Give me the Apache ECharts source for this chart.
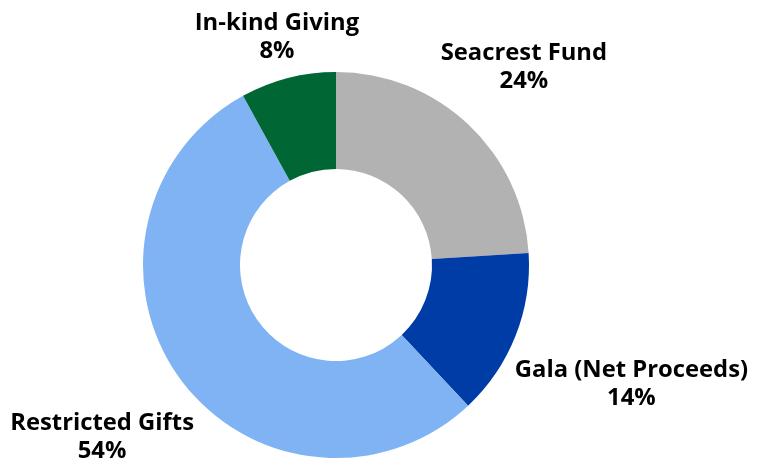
<!DOCTYPE html>
<html>
<head>
<meta charset="utf-8">
<script src="https://cdn.jsdelivr.net/npm/echarts@6/dist/echarts.min.js"></script>
<style>
html,body{margin:0;padding:0;background:#fff;}
#chart{width:763px;height:461px;}
</style>
</head>
<body>
<div id="chart"></div>
<script>
const categories = ['Seacrest Fund', 'Gala (Net Proceeds)', 'Restricted Gifts', 'In-kind Giving'];
const values = [24, 14, 54, 8];
const colors = ['#b2b2b2', '#003ca6', '#7fb3f3', '#006633'];

const CX = 336, CY = 265, R_IN = 96, R_OUT = 193, GAP = 198, SHIFT_Y = 2.5;
const total = values.reduce((a, b) => a + b, 0);
const cum = [];
values.reduce((a, v, i) => { cum[i] = a; return a + v; }, 0);

const chart = echarts.init(document.getElementById('chart'), null, {renderer: 'canvas'});
chart.setOption({
  backgroundColor: '#ffffff',
  animation: false,
  series: [{
    type: 'pie',
    center: [CX, CY],
    radius: [R_IN, R_OUT],
    startAngle: 90,
    clockwise: true,
    avoidLabelOverlap: false,
    data: categories.map((c, i) => ({name: c, value: values[i], itemStyle: {color: colors[i]}})),
    label: {
      show: true,
      position: 'outside',
      formatter: p => p.name + '\n' + p.value + '%',
      fontFamily: 'Open Sans',
      fontWeight: 'bold',
      fontSize: 23.8,
      lineHeight: 28,
      padding: [8, 0, 0, 0],
      color: '#000',
      align: 'center'
    },
    labelLine: {show: false, length: 10, length2: 0},
    labelLayout: function (p) {
      const i = p.dataIndex;
      const mid = (cum[i] + values[i] / 2) / total * Math.PI * 2;
      const dx = Math.sin(mid), dy = -Math.cos(mid);
      const hw = p.labelRect.width / 2, hh = p.labelRect.height / 2;
      const near = D => {
        const x = D * dx, y = D * dy;
        return Math.hypot(Math.max(0, Math.abs(x) - hw), Math.max(0, Math.abs(y) - hh));
      };
      let lo = 0, hi = 2000;
      for (let k = 0; k < 60; k++) {
        const m = (lo + hi) / 2;
        if (near(m) < GAP) lo = m; else hi = m;
      }
      const D = (lo + hi) / 2;
      return {x: CX + D * dx, y: CY + D * dy + SHIFT_Y, align: 'center', verticalAlign: 'middle'};
    }
  }]
});
</script>
</body>
</html>
